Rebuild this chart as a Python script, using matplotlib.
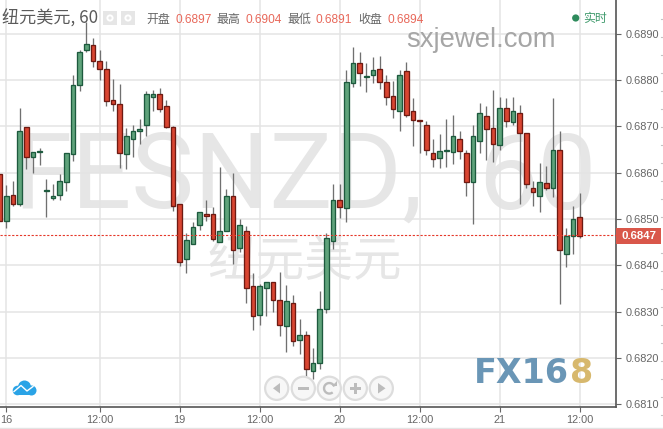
import matplotlib
matplotlib.use("Agg")
import matplotlib.pyplot as plt
from matplotlib.patches import Rectangle, Circle, Polygon, Arc

CJK = ['Noto Sans CJK SC', 'Liberation Sans', 'DejaVu Sans']
plt.rcParams['font.family'] = ['Liberation Sans', 'Noto Sans CJK SC', 'DejaVu Sans']

# body top, body bottom, high, low in 1e-5 price units; colour flag 1=up
slots = list(range(-1, 87))
body_top = [68597,68549,68551,68691,68698,68644,68646,68562,68549,68583,68642,68789,68860,68879,68875,68841,68825,68758,68748,68679,68691,68694,68771,68771,68771,68743,68698,68532,68454,68482,68515,68510,68510,68475,68549,68549,68486,68475,68355,68355,68363,68363,68326,68322,68318,68249,68249,68190,68305,68458,68540,68540,68795,68838,68836,68809,68821,68823,68795,68765,68812,68819,68733,68713,68704,68642,68646,68650,68679,68672,68642,68679,68728,68722,68696,68739,68739,68733,68728,68685,68566,68581,68577,68650,68648,68463,68501,68504]
body_bot = [68496,68496,68532,68532,68635,68635,68644,68560,68545,68551,68579,68640,68789,68866,68841,68825,68754,68748,68642,68640,68672,68691,68702,68763,68737,68698,68529,68408,68413,68447,68486,68506,68456,68450,68475,68434,68437,68352,68290,68292,68352,68326,68272,68268,68236,68238,68177,68171,68190,68305,68452,68527,68523,68793,68815,68807,68810,68795,68763,68737,68733,68724,68713,68711,68650,68629,68631,68646,68644,68646,68579,68579,68668,68694,68661,68659,68711,68709,68685,68575,68558,68549,68568,68568,68434,68424,68463,68463]
highs = [68597,68573,68582,68740,68698,68644,68653,68586,68576,68597,68642,68811,68866,68925,68892,68866,68841,68802,68792,68696,68704,68715,68776,68779,68782,68758,68700,68532,68469,68494,68515,68541,68527,68613,68565,68599,68501,68485,68383,68359,68363,68363,68385,68357,68336,68283,68259,68221,68344,68469,68576,68576,68822,68871,68860,68838,68850,68851,68810,68799,68821,68840,68761,68713,68711,68672,68683,68715,68724,68691,68648,68702,68750,68745,68778,68763,68761,68763,68747,68685,68583,68620,68614,68761,68691,68480,68529,68556]
lows = [68496,68481,68528,68528,68608,68600,68617,68505,68541,68540,68561,68626,68777,68861,68829,68801,68745,68734,68611,68609,68635,68663,68680,68734,68732,68696,68517,68399,68384,68447,68476,68496,68453,68450,68474,68403,68429,68319,68261,68272,68291,68300,68248,68213,68226,68209,68140,68155,68177,68298,68436,68503,68493,68786,68788,68775,68794,68780,68747,68719,68691,68721,68658,68643,68639,68613,68611,68613,68619,68630,68550,68490,68643,68628,68624,68649,68699,68702,68533,68568,68529,68516,68562,68547,68317,68397,68425,68458]
rising = [0,1,0,1,0,1,1,1,1,1,1,1,1,1,0,0,0,0,0,1,1,1,1,1,0,0,0,0,1,1,1,0,0,1,1,0,1,0,0,1,1,0,0,1,0,1,0,1,1,1,1,0,1,1,0,1,1,0,0,0,1,0,0,0,0,0,1,1,1,0,0,1,1,0,0,1,0,1,0,0,0,1,0,1,0,1,1,0]

y_ticks = [0.6810,0.6820,0.6830,0.6840,0.6850,0.6860,0.6870,0.6880,0.6890]
x_ticks = [0,14,26,38,50,62,74,86]
x_labels = ['16','12:00','19','12:00','20','12:00','21','12:00']
last_price = 0.68465
last_label = '0.6847'
ohlc_labels = ['开盘','最高','最低','收盘']
ohlc_values = ['0.6897','0.6904','0.6891','0.6894']

W, H = 663, 429
fig = plt.figure(figsize=(W/100, H/100), dpi=100, facecolor='white')
AX_R, AX_B = 616.3, 407.0
ax = fig.add_axes([0, 1-AX_B/H, AX_R/W, AX_B/H], facecolor='none')
ax.set_xlim(-6.33/6.667, (AX_R-6.33)/6.667)
ax.set_ylim(0.68094, 0.68973)
for s in ['top','left']:
    ax.spines[s].set_visible(False)
for s in ['right','bottom']:
    ax.spines[s].set_color('#555555'); ax.spines[s].set_linewidth(1.2)
ax.yaxis.tick_right()
ax.set_yticks(y_ticks, [f'{v:.4f}' for v in y_ticks])
ax.set_xticks(x_ticks, x_labels)
ax.tick_params(axis='both', labelsize=7.95, colors='#666666', length=3.5, width=0.8, pad=2)
ax.tick_params(axis='y', pad=3)
ax.grid(True, color='#e4e4e4', lw=1.1, zorder=0)
ax.set_axisbelow(True)

UP_F, UP_E, DN_F, DN_E = '#5fa37b', '#1d5a3e', '#d94531', '#6e1a12'
for i, t, b, h, l, r in zip(slots, body_top, body_bot, highs, lows, rising):
    t, b, h, l = t/1e5, b/1e5, h/1e5, l/1e5
    ax.plot([i, i], [l, h], color='#707070', lw=0.95, zorder=3, solid_capstyle='butt')
    ax.add_patch(Rectangle((i-0.33, b), 0.66, t-b, facecolor=UP_F if r else DN_F,
                           edgecolor=UP_E if r else DN_E, lw=0.95, zorder=4))
ax.axhline(last_price, color='#e5382a', lw=0.8, ls=(0, (2, 1.5)), zorder=5)

# background layer in pixel space: watermarks
ov = fig.add_axes([0, 0, 1, 1], facecolor='none')
ov.set_xlim(0, W); ov.set_ylim(H, 0); ov.axis('off')
ov.set_zorder(-1)
ax.set_zorder(1)

WM = '#e6e6e6'
ov.text(13, 208, 'FESNZD,', fontsize=76, color=WM, ha='left', va='baseline', family='Roboto', weight='normal')
ov.text(537, 209, '60', fontsize=76, color=WM, ha='center', va='baseline', family='Roboto', weight='normal')
ov.text(305, 262, '纽元美元', fontsize=35, color=WM, ha='center', va='center', family=CJK)

# foreground layer in pixel space: header, badges, controls
top = fig.add_axes([0, 0, 1, 1], facecolor='none')
top.set_xlim(0, W); top.set_ylim(H, 0); top.axis('off'); top.set_zorder(5)

top.text(2, 18.5, '纽元美元, 60', fontsize=12.3, color='#5a5a5a', ha='left', va='center', family=CJK)
for x0 in (103, 121):
    top.add_patch(Rectangle((x0, 11), 14, 14, fc='#e6e6e6', ec='none'))
    top.add_patch(Circle((x0+7, 18), 3.6, fc='white', ec='none'))
    top.add_patch(Circle((x0+7, 18), 1.6, fc='#e6e6e6', ec='none'))
for lab, x in zip(ohlc_labels, (146, 216, 287, 358)):
    top.text(x, 19.5, lab, fontsize=8.6, color='#666666', ha='left', va='center', family=CJK)
for val, x in zip(ohlc_values, (176, 246, 316, 387)):
    top.text(x, 20, val, fontsize=8.6, color='#e8685a', ha='left', va='center')
top.text(406, 47, 'sxjewel.com', fontsize=19.8, color='#a6a6a6', ha='left', va='baseline')
top.add_patch(Circle((575.7, 18), 3.6, fc='#2e8b5c', ec='none'))
top.text(583, 18.5, '实时', fontsize=8.6, color='#3f9a6c', ha='left', va='center', family=CJK)

top.add_patch(Rectangle((616, 228), 45, 16, fc='#d9574a', ec='none'))
top.text(638.5, 236.3, last_label, fontsize=8.2, color='white', weight='bold', ha='center', va='center')

# right-edge ticks of the hidden scale and bottom hairline
for k in range(23):
    yy = 19.3 + 18*k
    if not 226 < yy < 246:
        top.plot([661, 663], [yy, yy], color='#c4c4c4', lw=0.8)
top.plot([0, 663], [428, 428], color='#e4e4e4', lw=1)

# cloud icon
C = '#2aa3e6'
for cx, cy, r in ((17.5, 390.5, 4.8), (24.5, 387, 6.5), (31.5, 390.5, 5)):
    top.add_patch(Circle((cx, cy), r, fc=C, ec='none'))
top.add_patch(Rectangle((17, 389), 15, 6, fc=C, ec='none'))
top.plot([14, 21, 27, 33], [391.5, 385.5, 391, 386.5], color='white', lw=1)

# navigation buttons
BC, SC = '#dddddd', '#bcbcbc'
for cx in (276.7, 303.3, 329.3, 355.3, 381.3):
    top.add_patch(Circle((cx, 388.3), 11.6, fc='#f7f7f7', ec=BC, lw=1.6))
top.add_patch(Polygon([[280, 383], [280, 393.5], [273, 388.3]], fc=SC, ec='none'))
top.add_patch(Polygon([[378, 383], [378, 393.5], [385.5, 388.3]], fc=SC, ec='none'))
top.add_patch(Rectangle((297.5, 387), 11.5, 2.8, fc=SC, ec='none'))
top.add_patch(Rectangle((349.5, 387), 11.5, 2.8, fc=SC, ec='none'))
top.add_patch(Rectangle((354, 382.5), 2.8, 11.5, fc=SC, ec='none'))
top.add_patch(Arc((329.3, 388.3), 10.5, 10.5, theta1=50, theta2=340, ec=SC, lw=1.7))
top.add_patch(Polygon([[332, 385.5], [337, 385.5], [337, 381]], fc=SC, ec='none'))

# logo
top.text(474, 383, 'FX16', fontsize=24, color='#6a96b6', weight='bold', ha='left', va='baseline',
         family='DejaVu Sans')
top.text(570, 383, '8', fontsize=24, color='#d7b86d', weight='bold', ha='left', va='baseline',
         family='DejaVu Sans')

fig.savefig('out.png', dpi=100)
